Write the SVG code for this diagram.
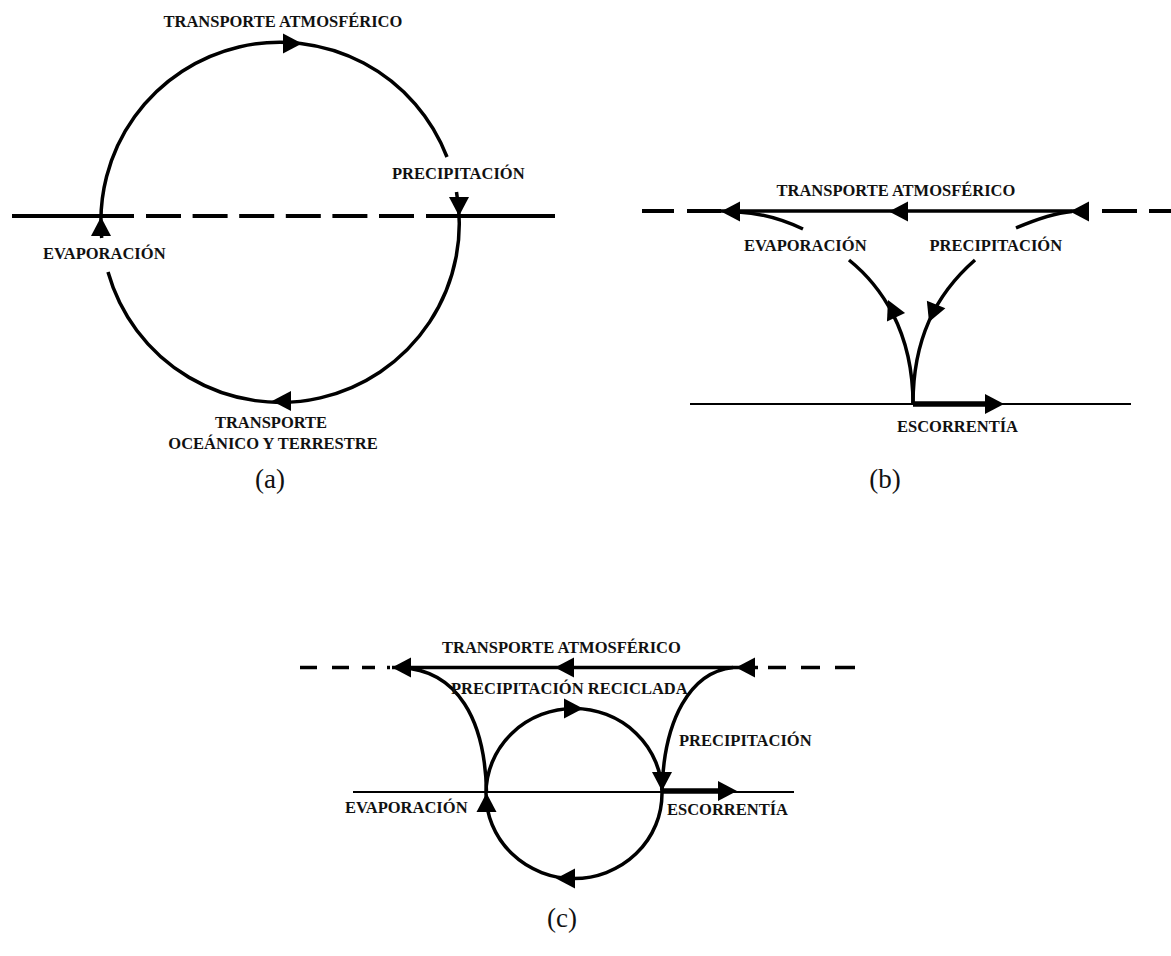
<svg xmlns="http://www.w3.org/2000/svg" xmlns:xlink="http://www.w3.org/1999/xlink" width="1171" height="956" viewBox="0 0 1171 956">
<style>
.lbl{font-family:"Liberation Serif","Times New Roman",serif;font-weight:bold;font-size:16.5px;fill:#111}
.cap{font-family:"Liberation Serif","Times New Roman",serif;font-size:27px;fill:#111}
.ln{stroke:#000;fill:none;stroke-width:3.5}
.dl{stroke:#000;fill:none;stroke-width:4}
.thin{stroke:#000;fill:none;stroke-width:2}
.run{stroke:#000;fill:none;stroke-width:5.5}
.ah{fill:#000}
</style>
<defs>
<path id="ah" d="M0,0 L-19,-10 L-19,10 Z"/>
</defs>
<rect width="1171" height="956" fill="#fff"/>

<g id="connectors">
<!-- panel a -->
<line class="dl" x1="12" y1="216" x2="134" y2="216"/>
<line class="dl" x1="146" y1="216" x2="414" y2="216" stroke-dasharray="35 11.6"/>
<line class="dl" x1="426" y1="216" x2="555" y2="216"/>
<path class="ln" d="M101.7,238 A179,179 0 0,1 447,157"/>
<path class="ln" d="M456.5,192 A179,179 0 0,1 108,272"/>
<use href="#ah" class="ah" transform="translate(302,43.5)"/>
<use href="#ah" class="ah" transform="translate(459,216) rotate(90)"/>
<use href="#ah" class="ah" transform="translate(101,217) rotate(-90)"/>
<use href="#ah" class="ah" transform="translate(272,401) rotate(180)"/>

<!-- panel b -->
<line class="dl" x1="642" y1="211" x2="674" y2="211"/>
<line class="dl" x1="687" y1="211" x2="721" y2="211"/>
<line class="ln" x1="721" y1="211" x2="1089" y2="211"/>
<rect x="1082" y="206.5" width="7" height="9" fill="#000"/>
<line class="dl" x1="1102" y1="211" x2="1137" y2="211"/>
<line class="dl" x1="1149" y1="211" x2="1171" y2="211"/>
<use href="#ah" class="ah" transform="translate(721,211.5) rotate(180)"/>
<use href="#ah" class="ah" transform="translate(889,211.5) rotate(180)"/>
<use href="#ah" class="ah" transform="translate(1070,211.5) rotate(180)"/>
<path class="ln" d="M803,229 C782,219 760,213 738,212"/>
<path class="ln" d="M913,404 C913,330 880,285 849,260"/>
<path class="ln" d="M1016,228 C1037,219 1055,213 1072,211.5"/>
<path class="ln" d="M975,260 C935,295 913,340 913,404"/>
<use href="#ah" class="ah" transform="translate(888,300) rotate(-115)"/>
<use href="#ah" class="ah" transform="translate(929,322) rotate(112)"/>
<line class="thin" x1="690" y1="404" x2="1131" y2="404"/>
<line class="run" x1="913" y1="404" x2="990" y2="404"/>
<use href="#ah" class="ah" transform="translate(1004,404)"/>

<!-- panel c -->
<line class="ln" x1="300" y1="667.5" x2="317" y2="667.5"/>
<line class="ln" x1="332" y1="667.5" x2="349" y2="667.5"/>
<line class="ln" x1="362" y1="667.5" x2="375" y2="667.5"/>
<line class="ln" x1="387" y1="667.5" x2="390" y2="667.5"/>
<line class="ln" x1="392" y1="667.5" x2="750" y2="667.5"/>
<line class="ln" x1="755" y1="667.5" x2="758" y2="667.5"/>
<line class="ln" x1="768" y1="667.5" x2="786" y2="667.5"/>
<line class="ln" x1="801" y1="667.5" x2="820" y2="667.5"/>
<line class="ln" x1="835" y1="667.5" x2="855" y2="667.5"/>
<use href="#ah" class="ah" transform="translate(392,667.5) rotate(180)"/>
<use href="#ah" class="ah" transform="translate(555,667.5) rotate(180)"/>
<use href="#ah" class="ah" transform="translate(736,667.5) rotate(180)"/>
<path class="ln" d="M486.5,792 C485,720 458,670 400,667.5"/>
<path class="ln" d="M733,667.5 C690,672 664,720 662,790"/>
<ellipse class="ln" cx="574" cy="793.5" rx="88" ry="85"/>
<use href="#ah" class="ah" transform="translate(583,708.5)"/>
<use href="#ah" class="ah" transform="translate(556,878.5) rotate(180)"/>
<use href="#ah" class="ah" transform="translate(486.5,793) rotate(-90)"/>
<use href="#ah" class="ah" transform="translate(662,791) rotate(90)"/>
<line class="thin" x1="353" y1="792" x2="794" y2="792"/>
<line class="run" x1="662" y1="791" x2="722" y2="791"/>
<use href="#ah" class="ah" transform="translate(737,791)"/>
</g>

<g id="a-transporte-atm"><text class="lbl" x="163.5" y="26.5">TRANSPORTE ATMOSFÉRICO</text></g>
<g id="a-precipitacion"><text class="lbl" x="392" y="179">PRECIPITACIÓN</text></g>
<g id="a-evaporacion"><text class="lbl" x="43" y="259">EVAPORACIÓN</text></g>
<g id="a-transporte-oce"><text class="lbl" text-anchor="middle" x="271" y="428">TRANSPORTE</text><text class="lbl" text-anchor="middle" x="273" y="449">OCEÁNICO Y TERRESTRE</text></g>

<g id="b-transporte-atm"><text class="lbl" x="776.5" y="196">TRANSPORTE ATMOSFÉRICO</text></g>
<g id="b-evaporacion"><text class="lbl" x="744" y="250.5">EVAPORACIÓN</text></g>
<g id="b-precipitacion"><text class="lbl" x="929.5" y="250.5">PRECIPITACIÓN</text></g>
<g id="b-escorrentia"><text class="lbl" x="897" y="431.5">ESCORRENTÍA</text></g>

<g id="c-transporte-atm"><text class="lbl" x="442" y="653">TRANSPORTE ATMOSFÉRICO</text></g>
<g id="c-precip-reciclada"><text class="lbl" x="451" y="694">PRECIPITACIÓN RECICLADA</text></g>
<g id="c-precipitacion"><text class="lbl" x="679" y="746">PRECIPITACIÓN</text></g>
<g id="c-evaporacion"><text class="lbl" x="345" y="812.5">EVAPORACIÓN</text></g>
<g id="c-escorrentia"><text class="lbl" x="667" y="815">ESCORRENTÍA</text></g>

<g id="captions">
<text class="cap" text-anchor="middle" x="270" y="488">(a)</text>
<text class="cap" text-anchor="middle" x="885" y="488">(b)</text>
<text class="cap" text-anchor="middle" x="562" y="927">(c)</text>
</g>
</svg>
